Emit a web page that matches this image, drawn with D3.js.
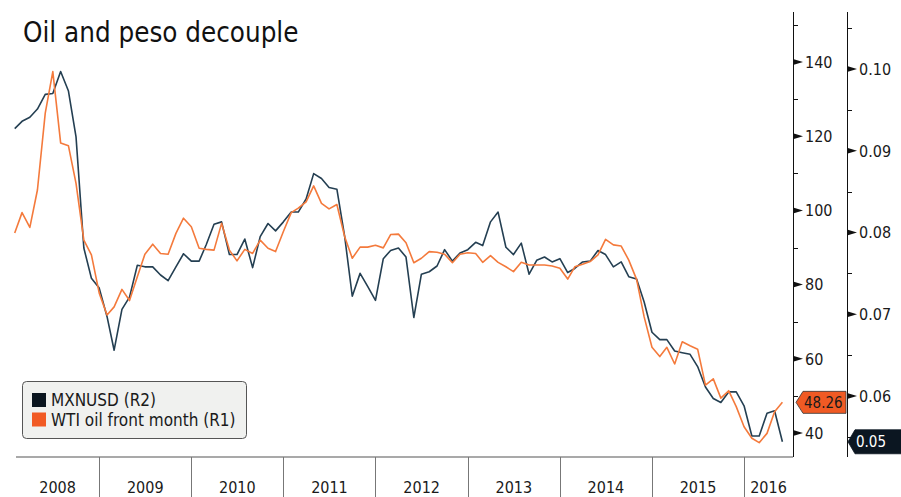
<!DOCTYPE html>
<html>
<head>
<meta charset="utf-8">
<script src="https://cdn.jsdelivr.net/npm/d3@7"></script>
<style>
  body { margin: 0; background: #fff; }
  svg text { font-family: 'DejaVu Sans Condensed', 'DejaVu Sans', sans-serif; font-stretch: condensed; }
</style>
</head>
<body>
<div id="chart"></div>
<script>
'use strict';

// monthly values, Jan 2008 .. May 2016 (plotted at month end)
var wti = [
  93.9, 99.4, 95.4, 105.5, 126.2, 137.4, 118.2, 117.4, 107.3, 92.0,
  88.0, 77.7, 71.8, 74.0, 78.7, 75.7, 82.1, 88.2, 90.9, 88.4,
  88.2, 93.8, 97.9, 95.6, 89.8, 89.5, 89.3, 96.5, 89.3, 86.4,
  89.5, 88.4, 92.0, 89.8, 88.9, 94.3, 99.4, 100.6, 102.3, 106.6,
  101.9, 100.4, 101.6, 92.9, 87.1, 90.1, 90.1, 90.6, 89.9, 93.5,
  93.6, 91.3, 85.9, 87.1, 88.9, 88.7, 88.2, 85.9, 88.2, 88.6,
  88.4, 86.0, 87.8, 86.0, 84.8, 83.5, 86.0, 85.3, 85.3, 85.3,
  85.0, 84.4, 81.5, 84.8, 85.5, 86.2, 88.0, 92.2, 90.7, 90.4,
  86.6, 81.4, 71.3, 63.1, 60.6, 63.1, 58.6, 64.6, 63.5, 62.6,
  52.9, 54.6, 49.4, 51.4, 47.1, 41.7, 38.6, 37.4, 39.9, 45.7, 48.26
];
var mxnusd = [
  0.0927, 0.0936, 0.0941, 0.0951, 0.0969, 0.0970, 0.0997, 0.0973, 0.0917, 0.0781,
  0.0744, 0.0732, 0.0697, 0.0656, 0.0706, 0.0721, 0.0760, 0.0758, 0.0758, 0.0748,
  0.0741, 0.0758, 0.0774, 0.0765, 0.0765, 0.0785, 0.0810, 0.0813, 0.0773, 0.0773,
  0.0792, 0.0757, 0.0795, 0.0811, 0.0802, 0.0813, 0.0825, 0.0825, 0.0841, 0.0872,
  0.0866, 0.0855, 0.0853, 0.0795, 0.0722, 0.0750, 0.0734, 0.0717, 0.0768, 0.0778,
  0.0781, 0.0770, 0.0696, 0.0749, 0.0752, 0.0759, 0.0779, 0.0765, 0.0775, 0.0779,
  0.0788, 0.0784, 0.0813, 0.0825, 0.0782, 0.0773, 0.0787, 0.0749, 0.0766, 0.0770,
  0.0764, 0.0768, 0.0751, 0.0756, 0.0764, 0.0765, 0.0778, 0.0773, 0.0758, 0.0764,
  0.0746, 0.0743, 0.0715, 0.0678, 0.0669, 0.0669, 0.0655, 0.0653, 0.0651, 0.0636,
  0.0611, 0.0597, 0.0592, 0.0605, 0.0605, 0.0588, 0.0551, 0.0551, 0.0579, 0.0582, 0.0544
];
var years = [2008, 2009, 2010, 2011, 2012, 2013, 2014, 2015, 2016];
var r1Ticks = [40, 60, 80, 100, 120, 140];
var r1Minor = [50, 70, 90, 110, 130, 150];
var r2Ticks = [0.06, 0.07, 0.08, 0.09, 0.10];
var r2Minor = [0.055, 0.065, 0.075, 0.085, 0.095, 0.105];

var width = 901, height = 497;
var plot = {left: 16, right: 793, top: 12, bottom: 457};
var axis2X = 847;
var orange = '#f47a3c', navy = '#243f52';

var svg = d3.select('#chart').append('svg')
  .attr('width', width)
  .attr('height', height);

var dates = d3.timeMonth.range(new Date(2008, 1, 1), new Date(2016, 6, 1));

var x = d3.scaleTime()
  .domain([new Date(2008, 0, 1), new Date(2016, 6, 13)])
  .range([6.9, plot.right]);
var yOil = d3.scaleLinear().domain([40, 140]).range([433, 62]);
var yMx = d3.scaleLinear().domain([0.06, 0.10]).range([396, 69]);

// title
svg.append('text')
  .attr('x', 23)
  .attr('y', 42)
  .style('font-size', '27.5px')
  .style('fill', '#111')
  .text('Oil and peso decouple');

// lines
var lineOil = d3.line()
  .x(function(d, i) { return x(dates[i]) })
  .y(function(d) { return yOil(d) });
var lineMx = d3.line()
  .x(function(d, i) { return x(dates[i]) })
  .y(function(d) { return yMx(d) });

svg.append('path')
  .attr('d', lineMx(mxnusd))
  .attr('fill', 'none')
  .attr('stroke', navy)
  .attr('stroke-width', 1.6)
  .attr('stroke-linejoin', 'round');

svg.append('path')
  .attr('d', lineOil(wti))
  .attr('fill', 'none')
  .attr('stroke', orange)
  .attr('stroke-width', 1.6)
  .attr('stroke-linejoin', 'round');

// bottom axis with year dividers
svg.append('line')
  .attr('x1', plot.left).attr('x2', plot.right)
  .attr('y1', plot.bottom).attr('y2', plot.bottom)
  .attr('stroke', '#555').attr('stroke-width', 1.2);

var yearStarts = years.slice(1).map(function(y) { return new Date(y, 0, 1) });
svg.selectAll('.ydiv')
  .data(yearStarts)
  .enter().append('line')
  .attr('class', 'ydiv')
  .attr('x1', function(d) { return Math.round(x(d)) + 0.5 })
  .attr('x2', function(d) { return Math.round(x(d)) + 0.5 })
  .attr('y1', plot.bottom).attr('y2', height)
  .attr('stroke', '#777');

svg.selectAll('.ylab')
  .data(years)
  .enter().append('text')
  .attr('class', 'ylab')
  .attr('x', function(y) {
    var a = Math.max(plot.left, x(new Date(y, 0, 1)));
    var b = Math.min(plot.right, x(new Date(y + 1, 0, 1)));
    return (a + b) / 2;
  })
  .attr('y', 493)
  .attr('text-anchor', 'middle')
  .style('font-size', '16px')
  .style('fill', '#1a1a1a')
  .text(function(d) { return d });

// right axes
function rightAxis(ax, scale, major, minor, fmt) {
  var g = svg.append('g');
  g.append('line')
    .attr('x1', ax + 0.5).attr('x2', ax + 0.5)
    .attr('y1', plot.top).attr('y2', plot.bottom)
    .attr('stroke', '#111');
  g.selectAll('.minor')
    .data(minor)
    .enter().append('line')
    .attr('x1', ax).attr('x2', ax + 5)
    .attr('y1', function(d) { return Math.round(scale(d)) + 0.5 })
    .attr('y2', function(d) { return Math.round(scale(d)) + 0.5 })
    .attr('stroke', '#111');
  g.selectAll('.major')
    .data(major)
    .enter().append('path')
    .attr('d', function(d) {
      var yy = scale(d);
      return 'M' + ax + ',' + (yy - 3) + 'L' + (ax + 10) + ',' + yy + 'L' + ax + ',' + (yy + 3) + 'Z';
    })
    .attr('fill', '#111');
  g.selectAll('text')
    .data(major)
    .enter().append('text')
    .attr('x', ax + 12)
    .attr('y', function(d) { return scale(d) })
    .attr('dy', '0.36em')
    .style('font-size', '16px')
    .style('fill', '#1a1a1a')
    .text(fmt);
}
rightAxis(plot.right, yOil, r1Ticks, r1Minor, function(d) { return d });
rightAxis(axis2X, yMx, r2Ticks, r2Minor, d3.format('.2f'));

// last value tags
var lastOil = wti[wti.length - 1];
var lastMx = mxnusd[mxnusd.length - 1];

function tag(x0, x1, yy, h, fill, stroke, textColor, label) {
  svg.append('path')
    .attr('d', 'M' + x0 + ',' + yy + 'L' + (x0 + 7) + ',' + (yy - h / 2) + 'H' + x1 +
      'V' + (yy + h / 2) + 'H' + (x0 + 7) + 'Z')
    .attr('fill', fill)
    .attr('stroke', stroke)
    .attr('stroke-width', 0.8);
  svg.append('text')
    .attr('x', x0 + 8)
    .attr('y', yy)
    .attr('dy', '0.36em')
    .style('font-size', '15px')
    .style('fill', textColor)
    .text(label);
}
tag(796, 846, yOil(lastOil), 22, '#f05a24', '#333', '#1a1a1a', d3.format('.2f')(lastOil));
tag(848, 905, yMx(lastMx), 24, '#0b1621', '#0b1621', '#fff', d3.format('.2f')(lastMx));

// legend
var legend = svg.append('g')
  .attr('transform', 'translate(22,381)');
legend.append('rect')
  .attr('x', 0.5).attr('y', 0.5)
  .attr('width', 224).attr('height', 57)
  .attr('rx', 4)
  .attr('fill', '#f0f1ef')
  .attr('stroke', '#555');
var items = [
  {name: 'MXNUSD (R2)', color: '#0b1620'},
  {name: 'WTI oil front month (R1)', color: '#f15a24'}
];
var li = legend.selectAll('.item')
  .data(items)
  .enter().append('g')
  .attr('transform', function(d, i) { return 'translate(10,' + (12 + i * 19.5) + ')' });
li.append('rect')
  .attr('width', 14).attr('height', 14)
  .attr('fill', function(d) { return d.color });
li.append('text')
  .attr('x', 19)
  .attr('y', 13)
  .style('font-size', '17px')
  .style('fill', '#1a1a1a')
  .text(function(d) { return d.name });
</script>
</body>
</html>
